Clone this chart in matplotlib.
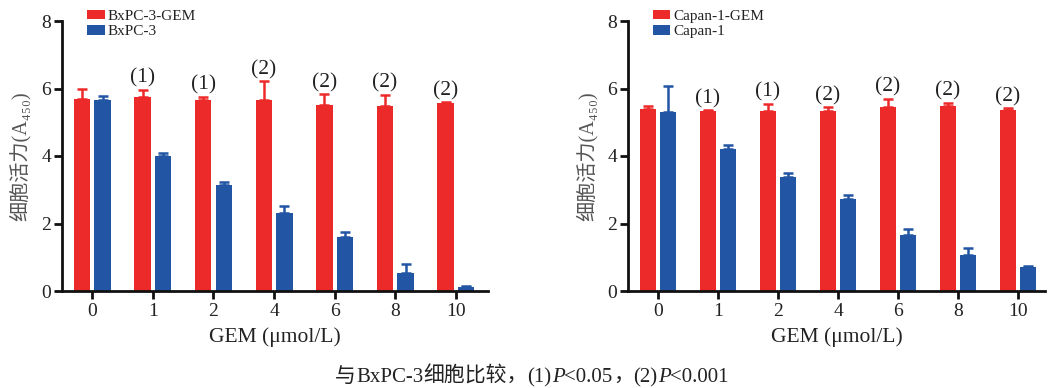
import matplotlib
matplotlib.use("Agg")
import matplotlib.pyplot as plt
from matplotlib.offsetbox import TextArea, HPacker, AnchoredOffsetbox
import numpy as np

# ---- data ----
categories = ["0", "1", "2", "4", "6", "8", "10"]

bx_gem = [5.69, 5.74, 5.66, 5.67, 5.51, 5.47, 5.57]
bx_gem_err = [0.29, 0.23, 0.10, 0.54, 0.32, 0.35, 0.02]
bx = [5.65, 4.00, 3.14, 2.30, 1.59, 0.52, 0.12]
bx_err = [0.12, 0.10, 0.10, 0.21, 0.15, 0.27, 0.03]
bx_sig = ["", "(1)", "(1)", "(2)", "(2)", "(2)", "(2)"]

cap_gem = [5.39, 5.33, 5.32, 5.33, 5.45, 5.49, 5.36]
cap_gem_err = [0.09, 0.02, 0.22, 0.11, 0.24, 0.09, 0.06]
cap = [5.31, 4.20, 3.39, 2.74, 1.65, 1.07, 0.70]
cap_err = [0.76, 0.13, 0.11, 0.10, 0.18, 0.19, 0.04]
cap_sig = ["", "(1)", "(1)", "(2)", "(2)", "(2)", "(2)"]

labels_left = ["BxPC-3-GEM", "BxPC-3"]
labels_right = ["Capan-1-GEM", "Capan-1"]

RED = "#ED2A2A"
BLUE = "#2255A4"
SERIF = "Liberation Serif"
CJK = "Noto Sans CJK SC"

plt.rcParams["font.family"] = [SERIF, CJK, "DejaVu Sans"]

fig = plt.figure(figsize=(10.51, 3.88), dpi=100)
W, H = 1051, 388

def make_ax(x0, x1, y_top, y_bot):
    return fig.add_axes([x0 / W, (H - y_bot) / H, (x1 - x0) / W, (y_bot - y_top) / H])

axL = make_ax(62, 488, 21, 291)
axR = make_ax(628, 1045, 21, 291)

def draw(ax, gem, gem_err, base, base_err, sig, labels, xright):
    x = np.arange(len(categories))
    off = 0.17
    w = 0.27
    ax.bar(x - off, gem, w, color=RED, label=labels[0], zorder=2)
    ax.bar(x + off, base, w, color=BLUE, label=labels[1], zorder=2)
    ax.errorbar(x - off, gem, yerr=[np.zeros(len(gem)), gem_err], fmt="none",
                ecolor=RED, elinewidth=1.8, capsize=3.5, capthick=1.8, zorder=1)
    ax.errorbar(x + off, base, yerr=[np.zeros(len(base)), base_err], fmt="none",
                ecolor=BLUE, elinewidth=1.8, capsize=3.5, capthick=1.8, zorder=1)
    for i, s in enumerate(sig):
        if s:
            top = gem[i] + gem_err[i]
            ax.annotate(s, (x[i] - off, top), xytext=(0, 1.5), textcoords="offset points",
                        ha="center", va="bottom", fontsize=15.5, family=SERIF, color="#222222")
    ax.set_xlim(-0.5, xright)
    ax.set_ylim(0, 8)
    ax.set_yticks([0, 2, 4, 6, 8])
    ax.set_xticks(x)
    ax.set_xticklabels(categories)
    for s in ["top", "right"]:
        ax.spines[s].set_visible(False)
    for s in ["left", "bottom"]:
        ax.spines[s].set_linewidth(2.0)
        ax.spines[s].set_color("#111111")
    ax.tick_params(axis="both", direction="out", length=6, width=2.0, color="#111111",
                   labelsize=14, labelcolor="#222222")
    ax.tick_params(axis="y", pad=2)
    ax.tick_params(axis="x", pad=3)
    for t in ax.get_xticklabels() + ax.get_yticklabels():
        t.set_family(SERIF)
    ax.set_xlabel("GEM (μmol/L)", fontsize=15.5, family=SERIF, color="#222222", va="center")
    ax.xaxis.set_label_coords(0.5, -0.17)
    ax.set_ylabel("细胞活力(A₄₅₀)", fontsize=14.5, family=[SERIF, CJK, "DejaVu Sans"],
                  color="#555555", va="center")
    leg = ax.legend(loc="upper left", bbox_to_anchor=(0.045, 1.065), frameon=False,
                    fontsize=11, handlelength=1.15, handleheight=0.6,
                    labelspacing=0.15, handletextpad=0.2, borderaxespad=0)
    for t in leg.get_texts():
        t.set_family(SERIF)
        t.set_color("#222222")

draw(axL, bx_gem, bx_gem_err, bx, bx_err, bx_sig, labels_left, 6.53)
draw(axR, cap_gem, cap_gem_err, cap, cap_err, cap_sig, labels_right, 6.45)
axL.yaxis.set_label_coords(-42 / 426, 0.5)
axR.yaxis.set_label_coords(-41 / 417, 0.5)

# caption with mixed fonts
cap_parts = [
    ("与", CJK, "normal"),
    ("BxPC-3", SERIF, "normal"),
    ("细胞比较，", CJK, "normal"),
    ("(1)", SERIF, "normal"),
    ("P", SERIF, "italic"),
    ("<0.05", SERIF, "normal"),
    ("，", CJK, "normal"),
    ("(2)", SERIF, "normal"),
    ("P", SERIF, "italic"),
    ("<0.001", SERIF, "normal"),
]
areas = [TextArea(t, textprops=dict(family=f, style=st, fontsize=15, color="#222222"))
         for t, f, st in cap_parts]
pack = HPacker(children=areas, pad=0, sep=0, align="baseline")
ab = AnchoredOffsetbox(loc="center", child=pack, frameon=False,
                       bbox_to_anchor=(532 / W, 1 - 376 / H),
                       bbox_transform=fig.transFigure, pad=0, borderpad=0)
fig.add_artist(ab)

fig.savefig("out.png", dpi=100)
